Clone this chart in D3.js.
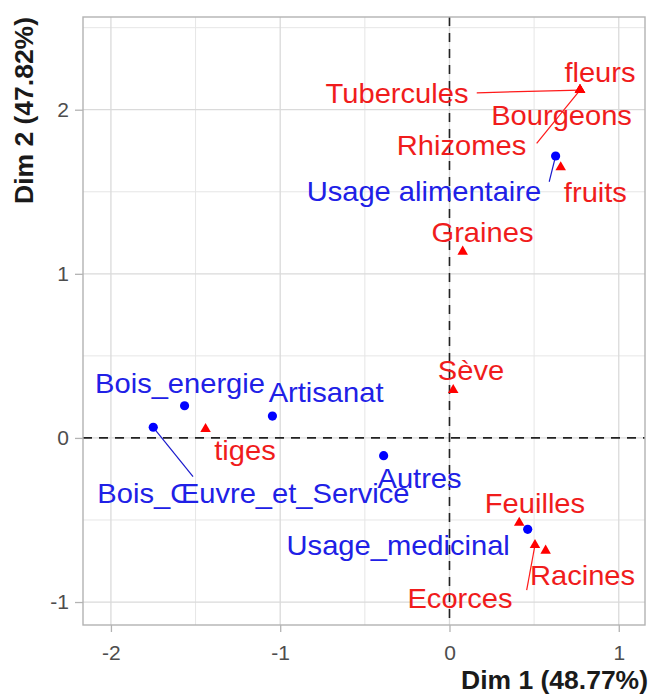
<!DOCTYPE html>
<html>
<head>
<meta charset="utf-8">
<script src="https://cdn.jsdelivr.net/npm/d3@7"></script>
<style>
  html, body { margin: 0; padding: 0; background: #fff; }
  svg { display: block; font-family: "Liberation Sans", Arial, sans-serif; }
</style>
</head>
<body>
<svg id="chart" width="649" height="696"></svg>
<script>
// ---- data ----
const rowNames = ["Bois_energie", "Artisanat", "Bois_Œuvre_et_Service", "Autres", "Usage_medicinal", "Usage alimentaire"];
const rowDim1 = [-1.565, -1.046, -1.750, -0.389, 0.462, 0.627];
const rowDim2 = [0.196, 0.133, 0.065, -0.108, -0.557, 1.718];

const colNames = ["fleurs", "Tubercules", "Bourgeons", "Rhizomes", "fruits", "Graines", "Sève", "tiges", "Feuilles", "Ecorces", "Racines"];
const colDim1 = [0.771, 0.771, 0.771, 0.771, 0.657, 0.078, 0.022, -1.441, 0.412, 0.505, 0.568];
const colDim2 = [2.12, 2.12, 2.12, 2.12, 1.649, 1.135, 0.292, 0.054, -0.517, -0.653, -0.687];

const xTicks = [-2, -1, 0, 1];
const yTicks = [-1, 0, 1, 2];
const xTitle = "Dim 1 (48.77%)";
const yTitle = "Dim 2 (47.82%)";

// ---- label layout (repelled positions, data units) ----
const rowLabelPos = [[-1.592, 0.274], [-0.729, 0.221], [-1.158, -0.397], [-0.177, -0.305], [-0.303, -0.714], [-0.151, 1.444]];
const rowSegEnd = [null, null, [-1.515, -0.236], null, null, [0.589, 1.561]];
const colLabelPos = [[0.889, 2.171], [-0.31, 2.041], [0.662, 1.907], [0.071, 1.724], [0.862, 1.439], [0.195, 1.196], [0.127, 0.353], [-1.208, -0.135], [0.505, -0.458], [0.062, -1.037], [0.786, -0.896]];
const colSegEnd = [null, [0.161, 2.103], null, [0.515, 1.795], null, null, null, null, null, [0.456, -0.927], null];

// ---- layout ----
const P = { left: 83, right: 645, top: 17, bottom: 625 };
const svg = d3.select("#chart");
const x = d3.scaleLinear().domain([-2.165, 1.155]).range([P.left, P.right]);
const y = d3.scaleLinear().domain([-1.14, 2.565]).range([P.bottom, P.top]);
const SX = 1.04;

const rows = rowNames.map((n, i) => ({ name: n, d1: rowDim1[i], d2: rowDim2[i], lp: rowLabelPos[i], se: rowSegEnd[i] }));
const cols = colNames.map((n, i) => ({ name: n, d1: colDim1[i], d2: colDim2[i], lp: colLabelPos[i], se: colSegEnd[i] }));

// grid
const grid = svg.append("g");
const minorX = d3.range(-2, 1.01, 0.5).filter(v => !xTicks.includes(v));
const minorY = d3.range(-1, 2.51, 0.5).filter(v => !yTicks.includes(v));
grid.selectAll("line.mx").data(minorX).join("line")
  .attr("x1", d => x(d)).attr("x2", d => x(d)).attr("y1", P.top).attr("y2", P.bottom)
  .attr("stroke", "#e6e6e6").attr("stroke-width", 1);
grid.selectAll("line.my").data(minorY).join("line")
  .attr("y1", d => y(d)).attr("y2", d => y(d)).attr("x1", P.left).attr("x2", P.right)
  .attr("stroke", "#e6e6e6").attr("stroke-width", 1);
grid.selectAll("line.gx").data(xTicks).join("line")
  .attr("x1", d => x(d)).attr("x2", d => x(d)).attr("y1", P.top).attr("y2", P.bottom)
  .attr("stroke", "#dadada").attr("stroke-width", 1.3);
grid.selectAll("line.gy").data(yTicks).join("line")
  .attr("y1", d => y(d)).attr("y2", d => y(d)).attr("x1", P.left).attr("x2", P.right)
  .attr("stroke", "#dadada").attr("stroke-width", 1.3);

// zero lines
svg.append("line").attr("x1", x(0)).attr("x2", x(0)).attr("y1", P.top).attr("y2", P.bottom)
  .attr("stroke", "#222").attr("stroke-width", 1.6).attr("stroke-dasharray", "9,7");
svg.append("line").attr("y1", y(0)).attr("y2", y(0)).attr("x1", P.left).attr("x2", P.right)
  .attr("stroke", "#222").attr("stroke-width", 1.6).attr("stroke-dasharray", "9,7");

// segments
svg.selectAll("line.rseg").data(rows.filter(d => d.se)).join("line")
  .attr("x1", d => x(d.d1)).attr("y1", d => y(d.d2)).attr("x2", d => x(d.se[0])).attr("y2", d => y(d.se[1]))
  .attr("stroke", "#1a1acc").attr("stroke-width", 1.2);
svg.selectAll("line.cseg").data(cols.filter(d => d.se)).join("line")
  .attr("x1", d => x(d.d1)).attr("y1", d => y(d.d2)).attr("x2", d => x(d.se[0])).attr("y2", d => y(d.se[1]))
  .attr("stroke", "#ff1a1a").attr("stroke-width", 1.2);

// points
svg.selectAll("circle.row").data(rows).join("circle")
  .attr("cx", d => x(d.d1)).attr("cy", d => y(d.d2)).attr("r", 4.6).attr("fill", "#0000ff");
const tri = d3.symbol().type(d3.symbolTriangle).size(48);
svg.selectAll("path.col").data(cols).join("path")
  .attr("d", tri).attr("transform", d => `translate(${x(d.d1)},${y(d.d2)})`).attr("fill", "#ff0000");

// labels
function labels(data, color) {
  svg.append("g").selectAll("text").data(data).join("text")
    .attr("transform", d => `translate(${x(d.lp[0])},${y(d.lp[1])}) scale(${SX},1)`)
    .attr("text-anchor", "middle")
    .attr("font-size", 28)
    .attr("fill", color)
    .text(d => d.name);
}
labels(rows, "#2020e6");
labels(cols, "#f01c1c");

// panel border
svg.append("rect").attr("x", P.left).attr("y", P.top).attr("width", P.right - P.left).attr("height", P.bottom - P.top)
  .attr("fill", "none").attr("stroke", "#b3b3b3").attr("stroke-width", 1.4);

// axes
const xAxis = svg.append("g").attr("transform", `translate(0,${P.bottom})`)
  .call(d3.axisBottom(x).tickValues(xTicks).tickSize(7).tickPadding(12).tickFormat(d3.format("d")));
const yAxis = svg.append("g").attr("transform", `translate(${P.left},0)`)
  .call(d3.axisLeft(y).tickValues(yTicks).tickSize(8).tickPadding(6).tickFormat(d3.format("d")));
[xAxis, yAxis].forEach(g => {
  g.select(".domain").remove();
  g.selectAll(".tick line").attr("stroke", "#b3b3b3").attr("stroke-width", 1.3);
  g.selectAll(".tick text").attr("fill", "#4d4d4d").attr("font-size", 21)
    .attr("font-family", "'Liberation Sans', Arial, sans-serif");
});
xAxis.selectAll(".tick text").attr("dy", "0.74em");
xAxis.selectAll(".tick text").text(d => d < 0 ? "-" + Math.abs(d) : d);
yAxis.selectAll(".tick text").text(d => d < 0 ? "-" + Math.abs(d) : d);

// axis titles
svg.append("text")
  .attr("transform", `translate(648,689) scale(1.06,1)`)
  .attr("text-anchor", "end").attr("font-weight", "bold").attr("font-size", 25).attr("fill", "#1a1a1a")
  .text(xTitle);
svg.append("text")
  .attr("transform", `translate(33,17) rotate(-90) scale(1.06,1)`)
  .attr("text-anchor", "end").attr("font-weight", "bold").attr("font-size", 25).attr("fill", "#1a1a1a")
  .text(yTitle);
</script>
</body>
</html>
